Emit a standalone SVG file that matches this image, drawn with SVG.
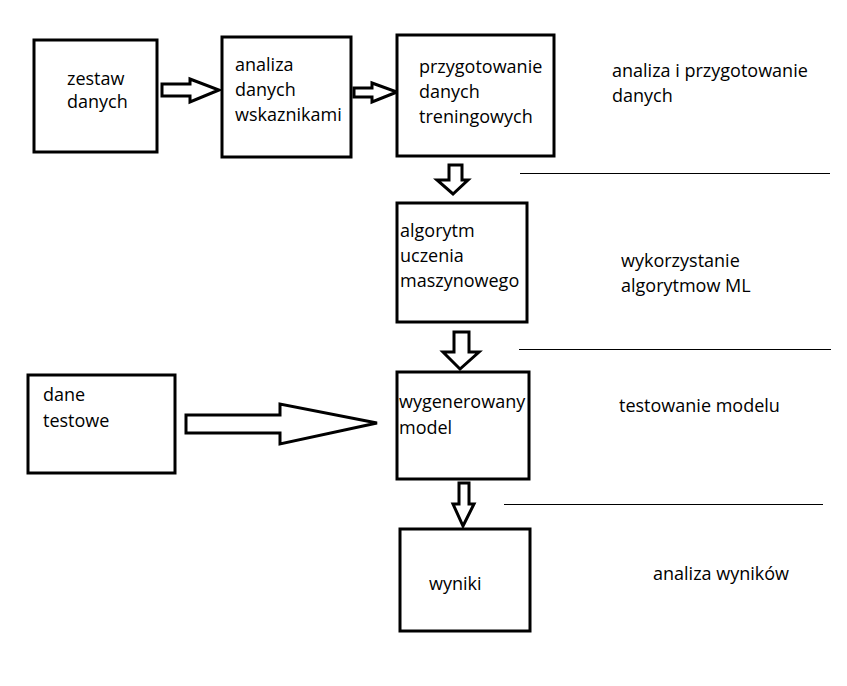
<svg xmlns="http://www.w3.org/2000/svg" width="847" height="686" viewBox="0 0 847 686">
<style>
.box{fill:#fff;stroke:#000;stroke-width:3}
.arr{fill:#fff;stroke:#000;stroke-width:3;stroke-linejoin:miter}
.sep{stroke:#000;stroke-width:1}
text{font-family:"Open Sans","Noto Sans",sans-serif;font-size:18px;fill:#000}
</style>
<rect width="847" height="686" fill="#fff"/>
<g id="connectors">
<polygon class="arr" points="162,84 190,84 190,79 219,90 190,102 190,96 162,96"/>
<polygon class="arr" points="354,88 372,88 372,83 397,92 372,102 372,97 354,97"/>
<polygon class="arr" points="449,165 462,165 462,180 468,180 453,194 437,180 449,180"/>
<polygon class="arr" points="454,332 469,332 469,352 479,352 460,369 443,352 454,352"/>
<polygon class="arr" points="186,415 280,415 280,404 377,423 280,444 280,433 186,433"/>
<polygon class="arr" points="459,483 469,483 469,504 474,504 463,526 453,504 459,504"/>
</g>
<g id="separators">
<line class="sep" x1="520" y1="173.5" x2="830" y2="173.5"/>
<line class="sep" x1="519" y1="349.5" x2="831" y2="349.5"/>
<line class="sep" x1="504" y1="504.5" x2="823" y2="504.5"/>
</g>
<g id="zestaw">
<rect class="box" x="34" y="40" width="123" height="112"/>
<text x="67" y="85">zestaw</text>
<text x="67" y="108">danych</text>
</g>
<g id="analiza">
<rect class="box" x="222" y="37" width="129" height="120"/>
<text x="235" y="71">analiza</text>
<text x="235" y="96">danych</text>
<text x="235" y="121">wskaznikami</text>
</g>
<g id="przygotowanie">
<rect class="box" x="397" y="35" width="157" height="121"/>
<text x="419" y="73">przygotowanie</text>
<text x="419" y="98">danych</text>
<text x="419" y="123">treningowych</text>
</g>
<g id="algorytm">
<rect class="box" x="397" y="203" width="130" height="119"/>
<text x="400" y="237">algorytm</text>
<text x="400" y="262">uczenia</text>
<text x="400" y="287">maszynowego</text>
</g>
<g id="dane">
<rect class="box" x="28" y="375" width="147" height="98"/>
<text x="43" y="401">dane</text>
<text x="43" y="427">testowe</text>
</g>
<g id="model">
<rect class="box" x="397" y="372" width="132" height="107"/>
<text x="399" y="408">wygenerowany</text>
<text x="399" y="434">model</text>
</g>
<g id="wyniki">
<rect class="box" x="400" y="529" width="130" height="102"/>
<text x="429" y="590">wyniki</text>
</g>
<g id="labels">
<text x="612" y="77">analiza i przygotowanie</text>
<text x="612" y="102">danych</text>
<text x="621" y="267">wykorzystanie</text>
<text x="621" y="292">algorytmow ML</text>
<text x="619" y="412">testowanie modelu</text>
<text x="653" y="580">analiza wyników</text>
</g>
</svg>
